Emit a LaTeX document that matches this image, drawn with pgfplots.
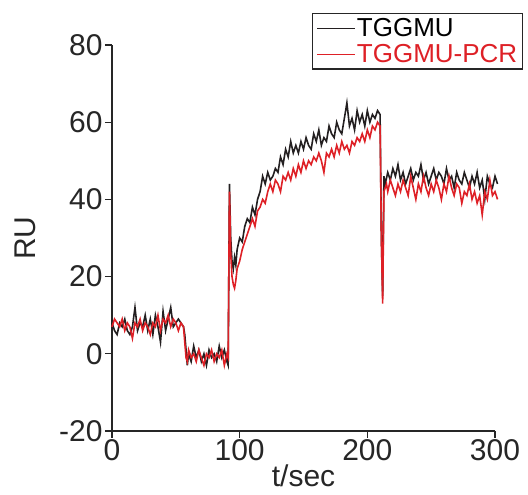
\documentclass[border=0pt]{standalone}
\usepackage{fontspec}
\setmainfont{Liberation Sans}
\usepackage{pgfplots}
\pgfplotsset{compat=1.18}

\definecolor{trace1}{RGB}{35,31,32}
\definecolor{trace2}{RGB}{222,32,38}

\begin{document}
\begin{tikzpicture}
\begin{axis}[
    scale only axis,
    width=383pt, height=386pt,
    xmin=0, xmax=300,
    ymin=-20, ymax=80,
    clip=false,
    axis x line*=bottom,
    axis y line*=left,
    axis line style={-, line width=1.4pt, black!85},
    xtick={0,100,200,300},
    xticklabels={0,100,200,300},
    ytick={-20,0,20,40,60,80},
    yticklabels={-20,0,20,40,60,80},
    tick align=outside,
    major tick length=7pt,
    tick style={line width=1.2pt, black!85},
    tick label style={font=\fontsize{30}{32}\selectfont, text=black!85},
    xticklabel style={yshift=2pt},
    yticklabel style={xshift=1pt},
    xlabel={t/sec},
    ylabel={RU},
    label style={font=\fontsize{30}{32}\selectfont, text=black!85},
    xlabel style={yshift=3pt},
    ylabel style={yshift=16pt},
    legend style={
        at={(1.073,1.083)}, anchor=north east,
        draw=black!85, line width=1.4pt, fill=white,
        font=\fontsize{26}{27}\selectfont,
        row sep=4pt, inner sep=4pt,
        cells={anchor=west},
        nodes={inner sep=1pt},
    },
    legend image code/.code={\draw[#1, line width=1.2pt] (0pt,0pt) -- (38pt,0pt);},
]
% ---- TGGMU (black) ----
\addplot[trace1, line width=1.6pt] coordinates {
(0,8) (2,6) (4,5) (6,8) (8,7) (10,9) (12,6) (14,5) (16,7) (18,12) (20,6) (22,8)
(24,7) (26,10) (28,6) (30,9) (32,5) (34,10) (36,7) (38,3) (40,11) (42,6) (44,9)
(46,12) (48,7) (50,8) (52,9) (54,8) (56,7) (57,5) (58,1)
(59,-3) (60,0) (62,-2) (64,2) (66,-1) (68,1) (70,-2) (72,0) (74,-3) (76,1) (78,-1)
(80,0) (82,-2) (84,2) (86,-1) (88,1) (90,-2) (91,-3)
(92,44) (93,30) (94,24) (95,22) (96,25) (97,23) (98,27) (100,30) (102,29) (104,33)
(106,35) (108,34) (110,38) (112,36) (114,40) (116,42) (118,46) (120,44) (122,47)
(124,45) (126,46) (128,48) (130,47) (132,51) (134,49) (136,53) (138,51) (140,55)
(142,52) (144,54) (146,52) (148,55) (150,53) (152,56) (154,54) (156,53) (158,57)
(160,55) (162,58) (164,54) (166,56) (168,55) (170,59) (172,57) (174,56) (176,60)
(178,58) (180,57) (182,61) (184,65) (186,59) (188,61) (190,58) (192,63) (194,60)
(196,62) (198,59) (200,63) (202,60) (204,62) (206,61) (208,63) (210,62) (211,30)
(212,15) (213,46) (214,44) (216,47) (218,45) (220,48) (222,46) (224,49) (226,45)
(228,47) (230,44) (232,46) (234,48) (236,45) (238,47) (240,46) (242,49) (244,45)
(246,47) (248,44) (250,46) (252,48) (254,45) (256,47) (258,46) (260,44) (262,48)
(264,45) (266,46) (268,43) (270,47) (272,45) (274,44) (276,47) (278,45) (280,43)
(282,46) (284,44) (286,47) (288,43) (290,45) (292,40) (294,46) (296,44) (298,43)
(300,46) (302,44)
};
\addlegendentry{TGGMU}
% ---- TGGMU-PCR (red) ----
\addplot[trace2, line width=1.6pt] coordinates {
(0,7) (2,9) (4,8) (6,7) (8,9) (10,6) (12,8) (14,7) (16,4) (18,8) (20,7) (22,9)
(24,6) (26,8) (28,7) (30,5) (32,8) (34,7) (36,10) (38,6) (40,9) (42,8) (44,10)
(46,7) (48,9) (50,8) (52,6) (54,8) (56,7) (57,3) (58,-1)
(59,-2) (60,1) (62,-1) (64,0) (66,-2) (68,1) (70,-1) (72,-3) (74,0) (76,-1) (78,1)
(80,-2) (82,0) (84,-1) (86,1) (88,-3) (90,0) (91,-1)
(92,42) (93,26) (94,20) (95,18) (96,17) (97,19) (98,22) (100,24) (102,27) (104,29)
(106,31) (108,33) (110,35) (112,33) (114,37) (116,38) (118,40) (120,39) (122,42)
(124,44) (126,42) (128,45) (130,44) (132,42) (134,46) (136,45) (138,47) (140,45)
(142,48) (144,46) (146,49) (148,47) (150,50) (152,48) (154,50) (156,49) (158,51)
(160,50) (162,52) (164,50) (166,47) (168,52) (170,51) (172,53) (174,51) (176,54)
(178,52) (180,55) (182,53) (184,54) (186,52) (188,55) (190,54) (192,56) (194,55)
(196,57) (198,55) (200,58) (202,56) (204,59) (206,58) (208,60) (210,59) (211,30)
(212,13) (213,42) (214,43) (215,44) (216,42) (218,45) (220,43) (222,41) (224,44)
(226,42) (228,45) (230,43) (232,41) (234,46) (236,43) (238,40) (240,44) (242,42)
(244,46) (246,43) (248,41) (250,44) (252,42) (254,45) (256,43) (258,40) (260,44)
(262,42) (264,46) (266,43) (268,41) (270,44) (272,43) (274,39) (276,42) (278,41)
(280,44) (282,40) (284,42) (286,39) (288,41) (290,36) (292,42) (294,40) (296,45)
(298,41) (300,42) (302,40)
};
\addlegendentry{\textcolor{trace2}{TGGMU-PCR}}
\end{axis}
\pgfresetboundingbox
\path[use as bounding box] (-112pt,-64pt) rectangle (416pt,431pt);
\end{tikzpicture}
\end{document}
